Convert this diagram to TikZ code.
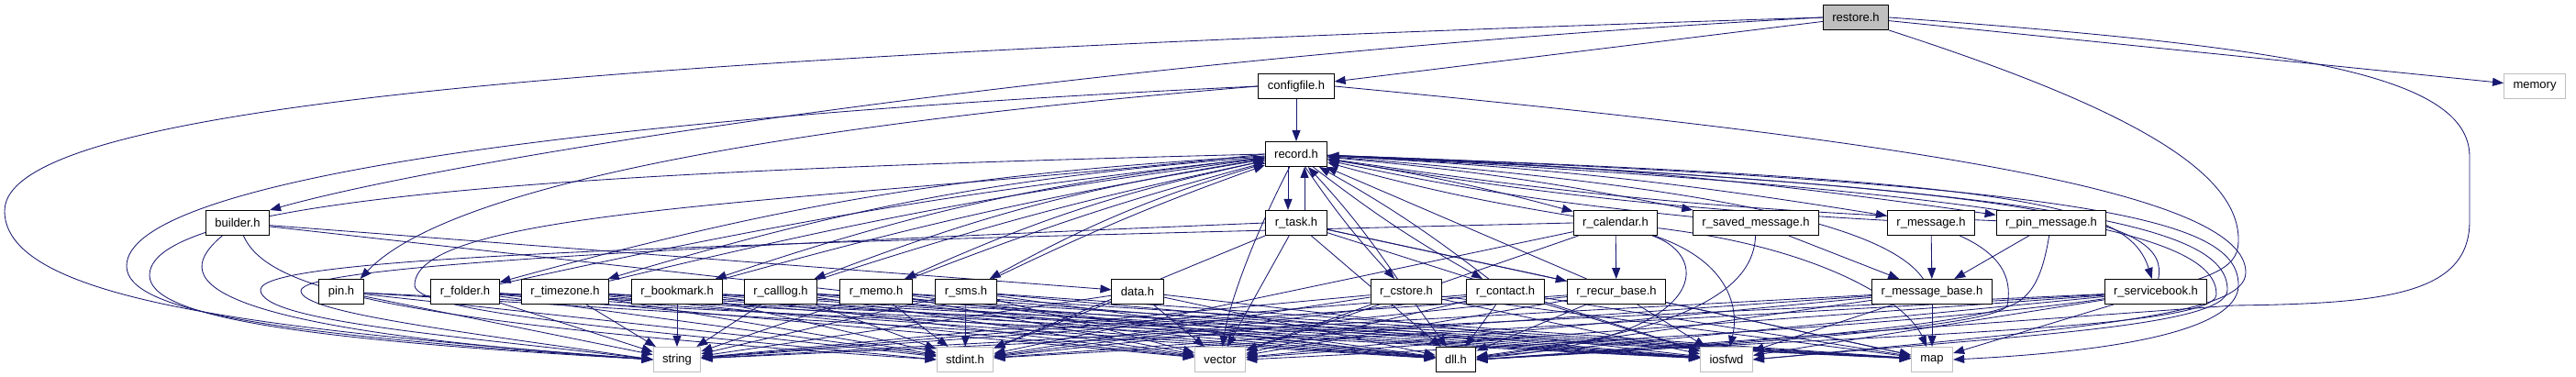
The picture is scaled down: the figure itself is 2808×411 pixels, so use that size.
\documentclass[tikz,border=0pt]{standalone}
\usepackage{fontspec}
\setmainfont{Liberation Sans}
\usetikzlibrary{arrows.meta}
\usetikzlibrary{backgrounds}
\tikzset{
	>={Triangle[length=12pt, width=9pt]},
	hdr/.style={draw=black, fill=white, line width=1pt, minimum height=27pt,
		inner xsep=10pt, inner ysep=0pt, font=\fontsize{13}{15}\selectfont},
	syshdr/.style={hdr, draw=SysGray},
	roothdr/.style={hdr, fill=SysGray},
	inc/.style={IncBlue, line width=0.85pt, ->},
}
\begin{document}
\begin{tikzpicture}[x=1pt, y=1pt]
	
	% Colors (doxygen look)
	\definecolor{IncBlue}{RGB}{25,25,112}   % include edges
	\definecolor{SysGray}{RGB}{191,191,191} % system headers, root fill
	
	\useasboundingbox (0,0) rectangle (2808,411);
	
	% --- top rows ---
	\node[roothdr] (restore)    at (2023,392) {restore.h};
	\node[hdr]     (configfile) at (1413,317) {configfile.h};
	\node[syshdr]  (memory)     at (2763,317) {memory};
	\node[hdr]     (record)     at (1413,243) {record.h};
	
	% --- middle row ---
	\node[hdr] (builder)       at (259,168)  {builder.h};
	\node[hdr] (rtask)         at (1413,168) {r\_task.h};
	\node[hdr] (rcalendar)     at (1761,168) {r\_calendar.h};
	\node[hdr] (rsavedmessage) at (1914,168) {r\_saved\_message.h};
	\node[hdr] (rmessage)      at (2105,168) {r\_message.h};
	\node[hdr] (rpinmessage)   at (2236,168) {r\_pin\_message.h};
	
	% --- lower row ---
	\node[hdr] (pin)          at (372,93)  {pin.h};
	\node[hdr] (rfolder)      at (507,93)  {r\_folder.h};
	\node[hdr] (rtimezone)    at (616,93)  {r\_timezone.h};
	\node[hdr] (rbookmark)    at (738,93)  {r\_bookmark.h};
	\node[hdr] (rcalllog)     at (851,93)  {r\_calllog.h};
	\node[hdr] (rmemo)        at (955,93)  {r\_memo.h};
	\node[hdr] (rsms)         at (1053,93) {r\_sms.h};
	\node[hdr] (data)         at (1240,93) {data.h};
	\node[hdr] (rcstore)      at (1533,93) {r\_cstore.h};
	\node[hdr] (rcontact)     at (1641,93) {r\_contact.h};
	\node[hdr] (rrecurbase)   at (1762,93) {r\_recur\_base.h};
	\node[hdr] (rmessagebase) at (2106,93) {r\_message\_base.h};
	\node[hdr] (rservicebook) at (2350,93) {r\_servicebook.h};
	
	% --- system headers (bottom) ---
	\node[syshdr] (string) at (738,19)  {string};
	\node[syshdr] (stdint) at (1052,19) {stdint.h};
	\node[syshdr] (vector) at (1330,19) {vector};
	\node[hdr]    (dll)    at (1587,19) {dll.h};
	\node[syshdr] (iosfwd) at (1882,19) {iosfwd};
	\node[syshdr] (map)    at (2106,19) {map};
	
	\begin{pgfonlayer}{background}
		
		% --- restore.h ---
		\draw[inc] (restore) -- (configfile);
		\draw[inc] (restore) -- (memory);
		\draw[inc] (restore.west) .. controls (1200,350) and (500,240) .. (builder.north east);
		\draw[inc] (restore.west) .. controls (700,351) and (5,301) .. (5,181)
			.. controls (5,81) and (300,51) .. (string.west);
		\draw[inc] (restore.south east) .. controls (2300,300) and (2440,230) .. (2440,150)
			.. controls (2440,100) and (2400,70) .. (vector.east);
		\draw[inc] (restore.east) .. controls (2500,360) and (2692,330) .. (2692,240)
			-- (2692,170) .. controls (2692,90) and (2600,80) .. (2435,78) -- (dll.east);
		
		% --- configfile.h ---
		\draw[inc] (configfile) -- (record);
		\draw[inc] (configfile.west) .. controls (800,270) and (480,200) .. ([xshift=-4pt]pin.north east);
		\draw[inc] (configfile.west) .. controls (600,281) and (138,211) .. (138,121)
			.. controls (138,71) and (300,46) .. (string.west);
		\draw[inc] (configfile.east) .. controls (2100,256) and (2448,200) .. (2448,114)
			.. controls (2448,70) and (2300,55) .. (iosfwd.east);
		
		% --- builder.h ---
		\draw[inc] (builder) -- (data);
		\draw[inc] (builder) -- (dll);
		\draw[inc] (builder) .. controls (190,110) and (190,55) .. (string.west);
		\draw[inc] (builder) .. controls (290,100) and (400,60) .. (stdint.west);
		
		% --- record.h <-> records (record.h includes them back) ---
		\foreach \rec in {rfolder,rtimezone,rbookmark,rcalllog,rmemo,rsms}{
			\draw[inc] (record) to[bend right=6] (\rec);
			\draw[inc] (\rec) to[bend left=3] (record);
		}
		\draw[inc] ([xshift=-9pt]record.south) -- ([xshift=-9pt]rtask.north);
		\draw[inc] ([xshift=9pt]rtask.north) -- ([xshift=9pt]record.south);
		\foreach \rec in {rcstore,rcontact}{
			\draw[inc] (record) to[bend right=4] (\rec);
			\draw[inc] (\rec) to[bend right=4] (record);
		}
		\foreach \rec in {rcalendar,rsavedmessage,rmessage,rpinmessage}{
			\draw[inc] (record) to[bend left=3] (\rec);
			\draw[inc] (\rec) to[bend left=3] (record);
		}
		\draw[inc] (record) .. controls (2200,215) and (2320,190) .. (rservicebook);
		\draw[inc] (rservicebook) .. controls (2365,170) and (2250,205) .. (record);
		\draw[inc] (rrecurbase) -- (record);
		\draw[inc] (rmessagebase) .. controls (2060,160) and (1900,205) .. (record);
		
		% --- base classes ---
		\draw[inc] (rtask) -- (rrecurbase);
		\draw[inc] (rcalendar) -- (rrecurbase);
		\draw[inc] (rsavedmessage) -- (rmessagebase);
		\draw[inc] (rmessage) -- (rmessagebase);
		\draw[inc] (rpinmessage) -- (rmessagebase);
		
		% --- record.h -> system headers ---
		\draw[inc] (record.west) .. controls (700,226) and (163,201) .. (163,111)
			.. controls (163,66) and (320,41) .. (string.west);
		\draw[inc] (record.west) .. controls (900,190) and (452,185) .. (452,100)
			.. controls (452,70) and (700,50) .. (stdint.west);
		\draw[inc] (record) .. controls (1365,150) and (1340,80) .. (vector);
		\draw[inc] (record) .. controls (2300,210) and (2440,170) .. (2440,100)
			.. controls (2440,60) and (2350,30) .. (map.east);
		\draw[inc] (record) .. controls (2280,205) and (2428,160) .. (2428,95)
			.. controls (2428,55) and (2200,45) .. (iosfwd.east);
		\draw[inc] (record) .. controls (2260,200) and (2416,150) .. (2416,90)
			.. controls (2416,50) and (2000,45) .. (dll.east);
		
		% --- lower row -> system headers ---
		\foreach \src in {rfolder,rtimezone,rbookmark,rcalllog,rmemo,rsms,rcstore,rcontact,rrecurbase,rmessagebase,rservicebook}{
			\foreach \dst in {string,stdint,vector,dll,iosfwd,map}{
				\draw[inc] (\src) -- (\dst);
			}
		}
		\foreach \dst in {string,stdint,dll,iosfwd}{\draw[inc] (pin) -- (\dst);}
		\foreach \dst in {string,stdint,vector,dll,iosfwd}{\draw[inc] (data) -- (\dst);}
		\foreach \dst in {stdint,vector,dll,iosfwd,map}{\draw[inc] (rtask) -- (\dst);}
		
		% --- middle row -> system headers ---
		\draw[inc] (rtask.west) .. controls (700,140) and (328,120) .. (328,94)
			.. controls (328,70) and (500,50) .. (string.west);
		\draw[inc] (rcalendar.west) .. controls (700,144) and (284,130) .. (284,95)
			.. controls (284,60) and (500,45) .. (string.west);
		\draw[inc] (rcalendar) -- (stdint);
		\draw[inc] (rcalendar) -- (vector);
		\draw[inc] (rcalendar) .. controls (1870,130) and (1860,40) .. (dll);
		\draw[inc] (rcalendar) .. controls (1890,125) and (1895,70) .. (iosfwd);
		\draw[inc] (rcalendar) .. controls (1990,140) and (2080,80) .. (map);
		\draw[inc] (rsavedmessage) .. controls (1912,100) and (1850,50) .. (dll);
		\draw[inc] (rmessage) .. controls (2190,130) and (2192,100) .. (2188,78)
			.. controls (2180,60) and (2000,40) .. (dll.east);
		\draw[inc] (rpinmessage) .. controls (2228,120) and (2220,95) .. (2200,82)
			.. controls (2170,62) and (2000,42) .. (dll.east);
		
	\end{pgfonlayer}
	
\end{tikzpicture}
\end{document}
